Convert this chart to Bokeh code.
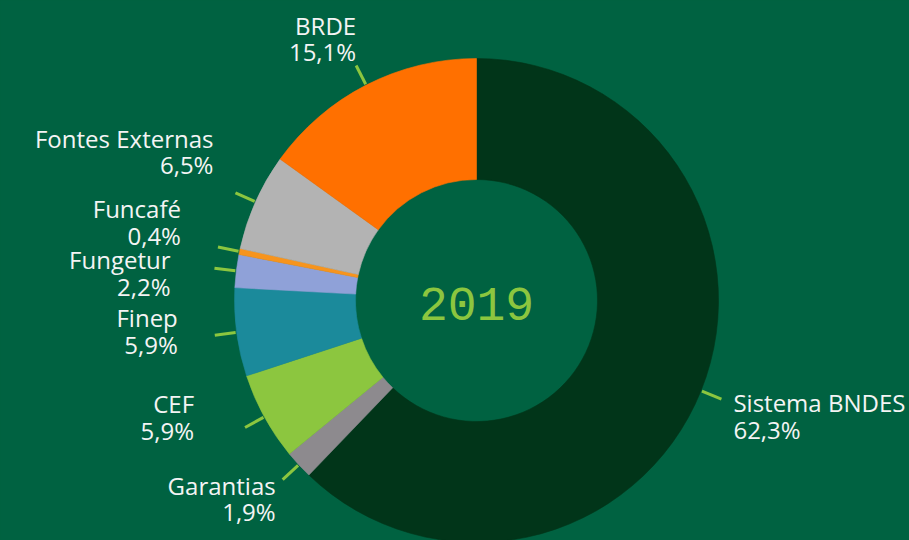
import math
from bokeh.plotting import figure
from bokeh.models import Range1d, ColumnDataSource
from bokeh.core.properties import value
from bokeh.embed import file_html
from bokeh.resources import INLINE

# ---------------- data ----------------
categories = ["Sistema BNDES", "Garantias", "CEF", "Finep", "Fungetur",
              "Funcafé", "Fontes Externas", "BRDE"]
shares = [62.3, 1.9, 5.9, 5.9, 2.2, 0.4, 6.5, 15.1]
year_label = "2019"

# ---------------- styles ----------------
colors = ["#013519", "#8d8a8e", "#8cc63f", "#1b8a9b", "#8fa1d8",
          "#f7941d", "#b3b3b3", "#ff7000"]
BG = "#006241"
LIME = "#8cc63f"
TXT = "#f4f4f4"

# ---------------- layout (screen px, y downward) ----------------
W, H = 909, 540
CX, CY = 476, 300
R_IN, R_OUT = 121, 242
LEAD_R1, LEAD_R2 = 243, 264
LINE_PITCH = 26.5
# label anchor offsets (second-line baseline) from leader outer end
label_dx = [12, -7, -51, -37, -44, -37, -22, 0]
label_dy = [30, 32, 3, 9, 18, -12, -28, -14]
label_align = ["left", "right", "right", "right", "right", "right", "right", "right"]

total = sum(shares)
cum = [0.0]
for v in shares:
    cum.append(cum[-1] + v / total)

starts = [math.pi / 2 - 2 * math.pi * cum[i] for i in range(len(shares))]
ends = [math.pi / 2 - 2 * math.pi * cum[i + 1] for i in range(len(shares))]
mids = [2 * math.pi * (cum[i] + cum[i + 1]) / 2 for i in range(len(shares))]  # clockwise from top

pct_text = [("%.1f%%" % v).replace(".", ",") for v in shares]

x0 = [CX + LEAD_R1 * math.sin(a) for a in mids]
y0 = [-(CY - LEAD_R1 * math.cos(a)) for a in mids]
x1 = [CX + LEAD_R2 * math.sin(a) for a in mids]
y1 = [-(CY - LEAD_R2 * math.cos(a)) for a in mids]

p = figure(width=W, height=H, x_range=Range1d(0, W), y_range=Range1d(-H, 0),
           output_backend="svg", toolbar_location=None, min_border=0,
           x_axis_location=None, y_axis_location=None,
           background_fill_color=BG, border_fill_color=BG, outline_line_color=None)
p.grid.visible = False

src = ColumnDataSource(dict(start=starts, end=ends, color=colors))
p.annular_wedge(x=CX, y=-CY, inner_radius=R_IN, outer_radius=R_OUT,
                inner_radius_units="screen", outer_radius_units="screen",
                start_angle="start", end_angle="end", direction="clock",
                fill_color="color", line_color="color", line_width=0.6, source=src)

p.segment(x0=x0, y0=y0, x1=x1, y1=y1, line_color=LIME, line_width=3)

for align in ("left", "right"):
    idx = [i for i in range(len(shares)) if label_align[i] == align]
    lx = [x1[i] + label_dx[i] for i in idx]
    ly2 = [y1[i] - label_dy[i] for i in idx]
    ly1 = [v + LINE_PITCH for v in ly2]
    p.text(x=lx + lx, y=ly1 + ly2,
           text=[categories[i] for i in idx] + [pct_text[i] for i in idx],
           text_font=value("Open Sans"), text_font_size="24px", text_color=TXT,
           text_align=align, text_baseline="alphabetic")

p.text(x=[CX], y=[-(CY + 3)], text=[year_label], text_font=value("Liberation Mono"),
       text_font_size="48px", text_color=LIME, text_align="center",
       text_baseline="alphabetic")

html = file_html(p, INLINE)
html = html.replace("<head>", "<head><style>body{background:%s;}</style>" % BG, 1)
open("out.html", "w").write(html)
